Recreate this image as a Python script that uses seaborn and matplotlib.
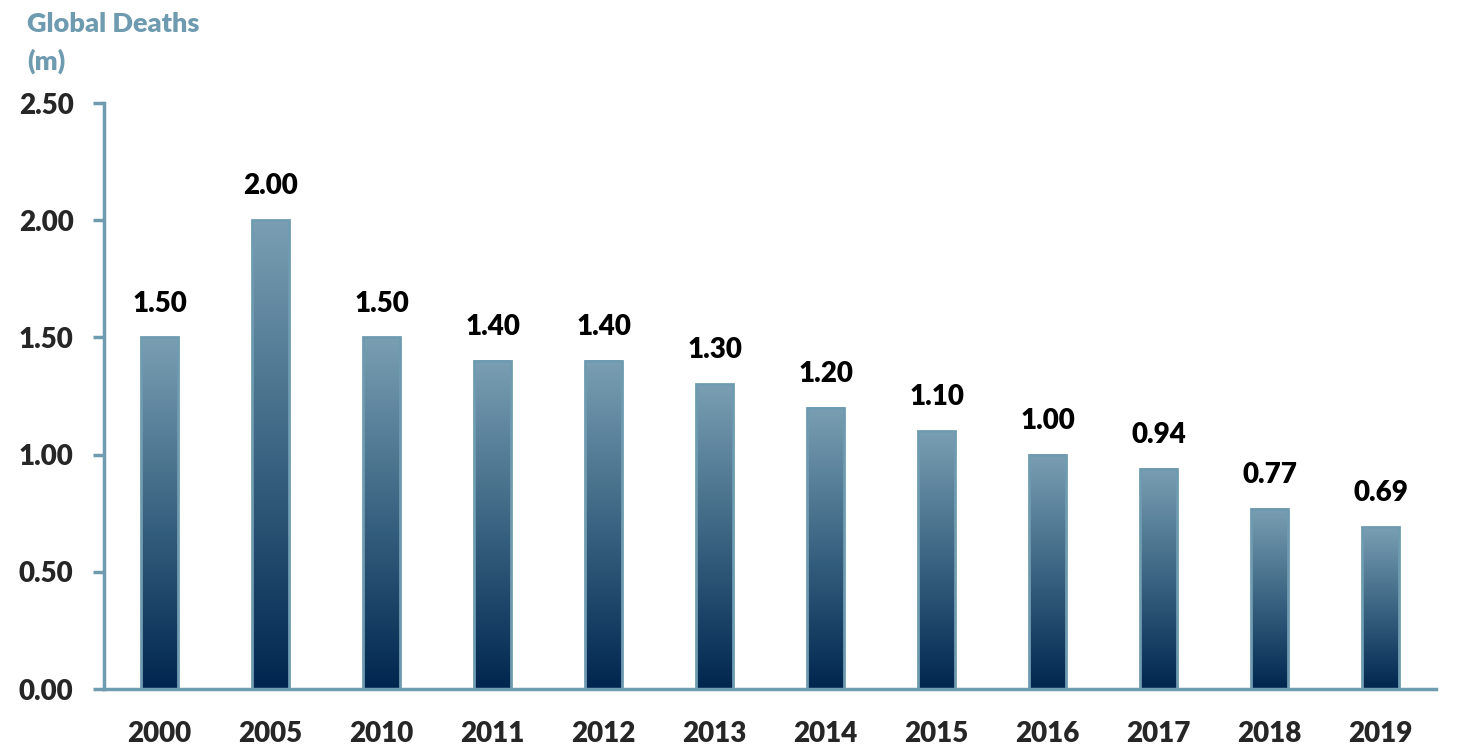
import numpy as np
import pandas as pd
import seaborn as sns
import matplotlib.pyplot as plt
from matplotlib.colors import LinearSegmentedColormap

# data
years = ['2000', '2005', '2010', '2011', '2012', '2013', '2014', '2015', '2016', '2017', '2018', '2019']
deaths = [1.50, 2.00, 1.50, 1.40, 1.40, 1.30, 1.20, 1.10, 1.00, 0.94, 0.77, 0.69]
y_ticks = [0.0, 0.5, 1.0, 1.5, 2.0, 2.5]

df = pd.DataFrame({'year': years, 'deaths': deaths})

sns.set_style('white')
plt.rcParams['font.family'] = ['Lato', 'DejaVu Sans']
plt.rcParams['font.weight'] = 'heavy'

axis_col = '#6f9bb0'
grad = LinearSegmentedColormap.from_list('g', ['#00264f', '#3a6482', '#7a9fb3'])

fig = plt.figure(figsize=(14.57, 7.54), dpi=100)
ax = fig.add_axes([104/1457, 1 - 689/754, (1436 - 104)/1457, (689 - 103)/754])

sns.barplot(data=df, x='year', y='deaths', ax=ax, width=0.33, color='white',
            edgecolor=axis_col, linewidth=2)

ax.set_xlim(-0.5, len(years) - 0.5)
ax.set_ylim(0, 2.5)

# gradient fill for each bar
g = np.linspace(0, 1, 256).reshape(-1, 1)
for p in ax.patches:
    x0, y0 = p.get_x(), p.get_y()
    w, h = p.get_width(), p.get_height()
    p.set_facecolor('none')
    p.set_zorder(3)
    ax.imshow(g, cmap=grad, origin='lower', aspect='auto',
              extent=[x0, x0 + w, y0, y0 + h], zorder=2)
    ax.annotate(f'{h:.2f}', (x0 + w / 2, h), xytext=(0, 15), textcoords='offset points',
                ha='center', va='bottom', fontsize=20, fontweight='heavy', color='black')

ax.set_xlim(-0.5, len(years) - 0.5)
ax.set_ylim(0, 2.5)

ax.set_yticks(y_ticks)
ax.set_yticklabels([f'{v:.2f}' for v in y_ticks], fontsize=20, fontweight='heavy')
ax.set_xticks(range(len(years)))
ax.set_xticklabels(years, fontsize=20, fontweight='heavy')
ax.set_xticks(np.arange(-0.5, len(years), 1), minor=True)
ax.tick_params(axis='x', which='major', length=0, pad=23)
ax.tick_params(axis='x', which='minor', length=8, width=2.5, color=axis_col, direction='out')
ax.tick_params(axis='y', length=8, width=2.5, color=axis_col, direction='out', pad=14, left=True)

ax.set_xlabel('')
ax.set_ylabel('')
for s in ['top', 'right']:
    ax.spines[s].set_visible(False)
for s in ['left', 'bottom']:
    ax.spines[s].set_color(axis_col)
    ax.spines[s].set_linewidth(2.5)

fig.text(27/1457, 1 - 12/754, 'Global Deaths\n(m)', ha='left', va='top', fontsize=19.5,
         fontweight='heavy', color='#6e9bb0', linespacing=1.6)

fig.savefig('out.png', dpi=100)
